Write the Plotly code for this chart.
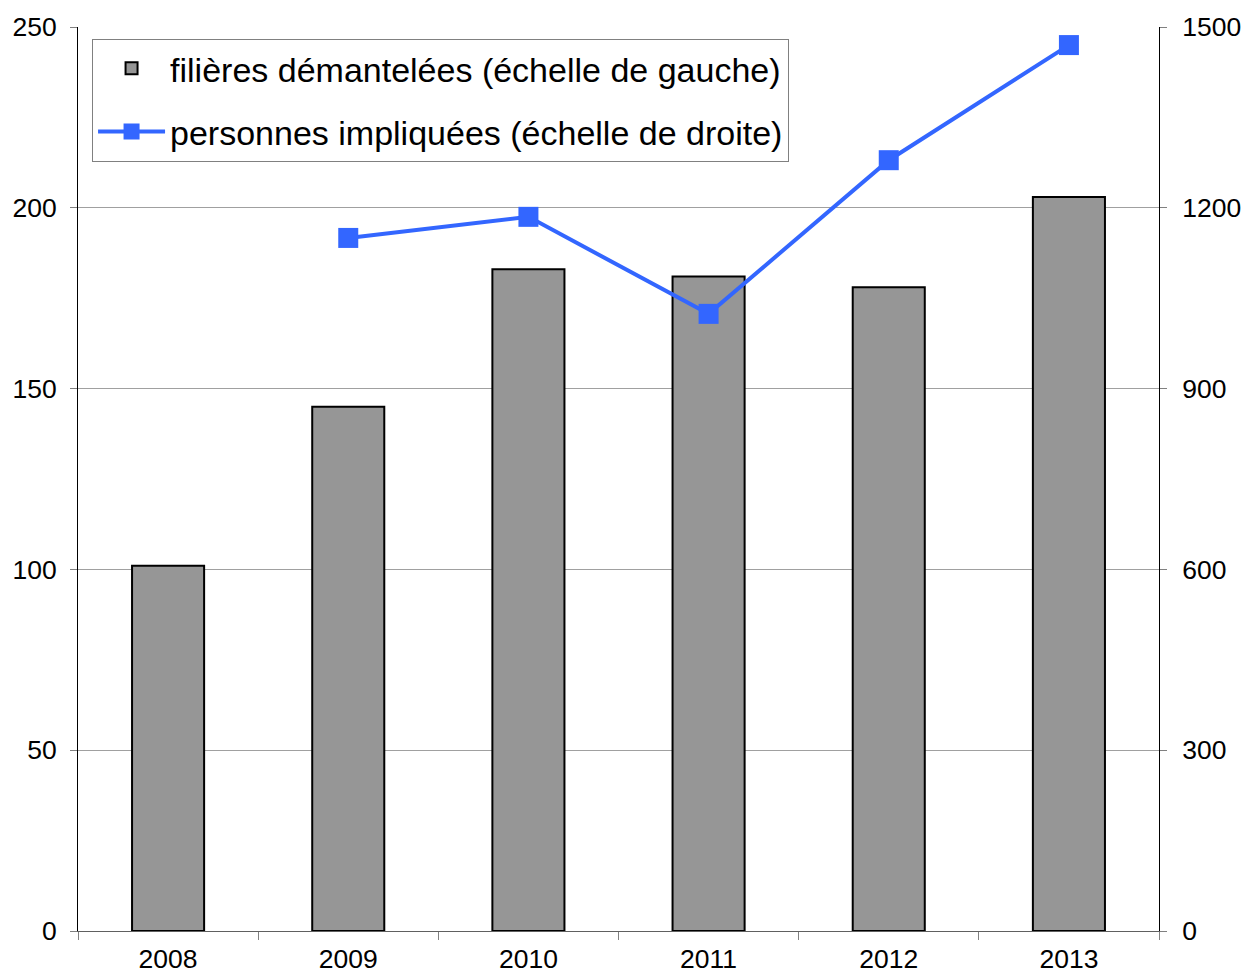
import plotly.graph_objects as go

years = ["2008", "2009", "2010", "2011", "2012", "2013"]
filieres = [101, 145, 183, 181, 178, 203]
personnes = [None, 1150, 1185, 1024, 1279, 1470]

FONT = "Liberation Sans"
TICKSIZE = 26.5

fig = go.Figure()
fig.add_trace(go.Bar(
    x=years, y=filieres,
    name="filières démantelées (échelle de gauche)",
    legendgroup="a",
    marker=dict(color="#969696", line=dict(color="black", width=2)),
    width=0.4,
))
fig.add_trace(go.Scatter(
    x=years, y=personnes, yaxis="y2",
    name="personnes impliquées (échelle de droite)",
    legendgroup="b",
    mode="lines+markers",
    line=dict(color="#3366FF", width=4),
    marker=dict(symbol="square", size=20, color="#3366FF"),
    connectgaps=False,
))

# page body has an 8px default margin -> shrink figure accordingly
fig.update_layout(
    width=1247, height=966,
    margin=dict(l=70, r=96, t=19, b=43, autoexpand=False),
    paper_bgcolor="white", plot_bgcolor="white",
    font=dict(family=FONT, size=26, color="black"),
    showlegend=True,
    legend=dict(
        x=0.013, y=0.987, xanchor="left", yanchor="top",
        bgcolor="white", bordercolor="#808080", borderwidth=1,
        font=dict(family=FONT, size=34, color="black"),
        tracegroupgap=16, itemwidth=67,
    ),
    xaxis=dict(
        type="category", showgrid=False, automargin=False,
        showline=True, linecolor="#606060", linewidth=1,
        ticks="outside", tickson="boundaries", ticklen=8, tickcolor="#808080",
        tickfont=dict(family=FONT, size=TICKSIZE), mirror=False,
        ticklabelstandoff=4,
    ),
    yaxis=dict(
        range=[0, 250], dtick=50, showgrid=True, gridcolor="#A0A0A0", gridwidth=1,
        showline=True, linecolor="black", linewidth=1, automargin=False,
        ticks="outside", ticklen=7, tickcolor="#808080",
        tickfont=dict(family=FONT, size=TICKSIZE), zeroline=False,
        ticklabelstandoff=8,
    ),
    yaxis2=dict(
        range=[0, 1500], dtick=300, overlaying="y", side="right",
        showgrid=False, showline=True, linecolor="black", linewidth=1, automargin=False,
        ticks="outside", ticklen=7, tickcolor="#808080",
        tickfont=dict(family=FONT, size=TICKSIZE), zeroline=False,
        ticklabelstandoff=10,
    ),
)

fig.write_html("out.html")
